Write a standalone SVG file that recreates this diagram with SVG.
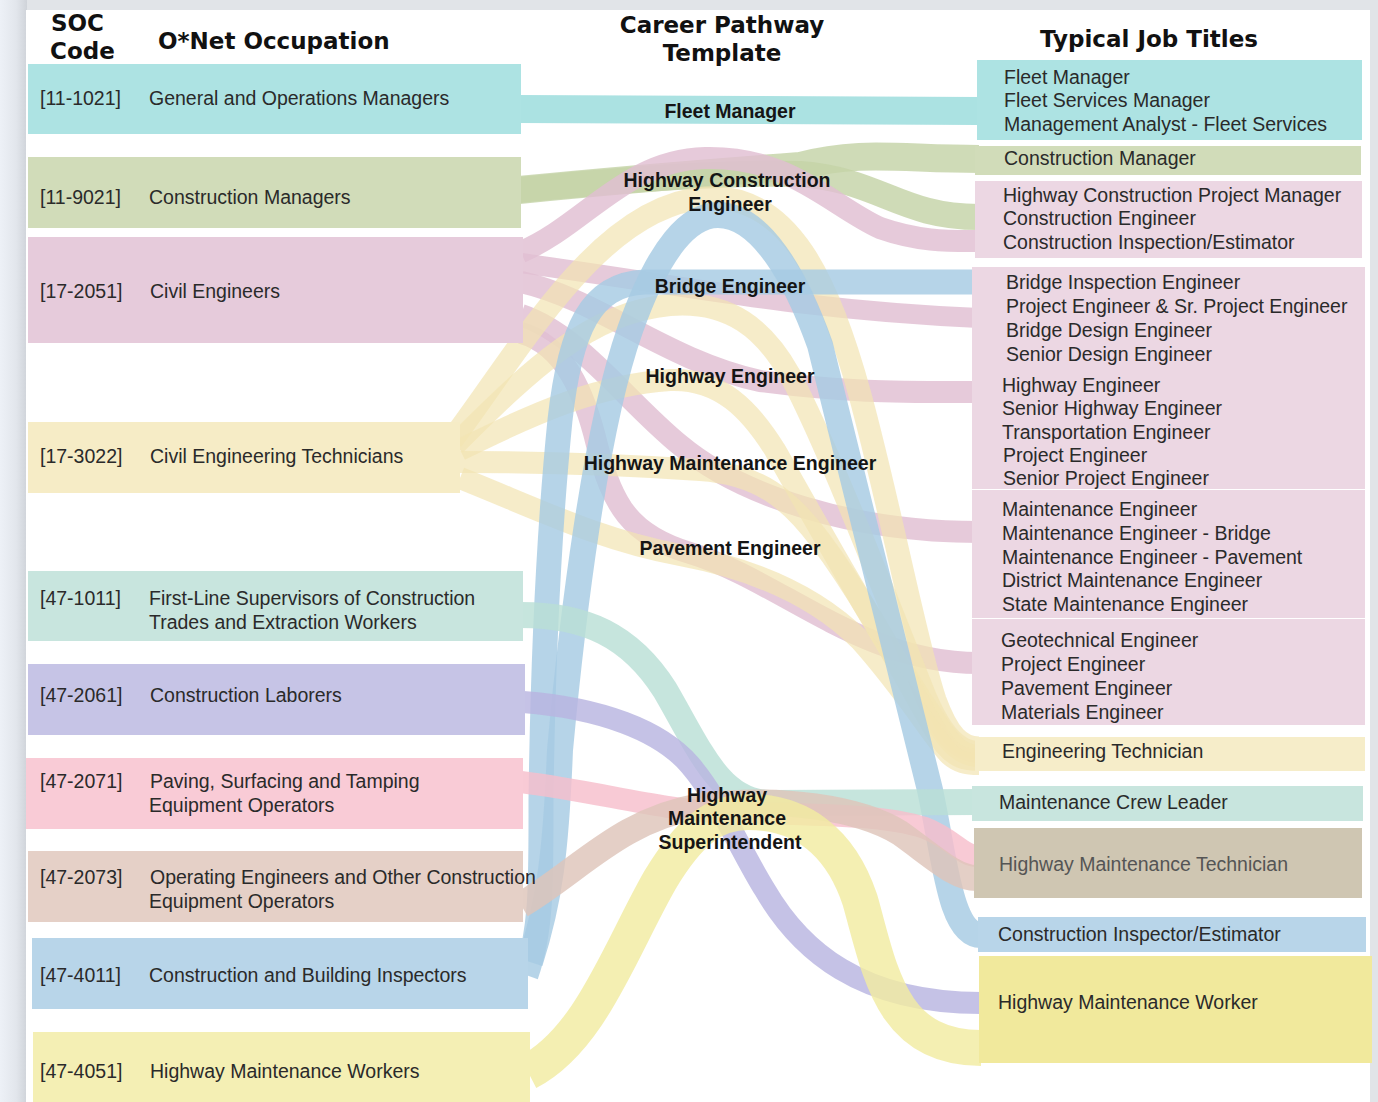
<svg xmlns="http://www.w3.org/2000/svg" width="1378" height="1102" viewBox="0 0 1378 1102">
<defs>
<linearGradient id="shadow" x1="0" x2="1" y1="0" y2="0">
<stop offset="0" stop-color="#edf1f7"/>
<stop offset="0.6" stop-color="#e2e6ec"/>
<stop offset="1" stop-color="#cfd3d9"/>
</linearGradient>
<style>
text{font-family:"Liberation Sans",Arial,sans-serif;font-size:19.5px;fill:#2a2a2a}
.hd{font-family:"DejaVu Sans","Liberation Sans",sans-serif;font-weight:bold;font-size:23px;fill:#111}
.mid{font-weight:bold;fill:#151515;text-anchor:middle}
.f{fill:none;stroke-opacity:0.82;stroke-linecap:butt}
.teal{stroke:#99dcdc}.green{stroke:#c5d3a7}.pink{stroke:#e0bed2}.yel{stroke:#f2e4b2;stroke-opacity:0.7}
.blue{stroke:#a6cae3}.mint{stroke:#badfd6}.purp{stroke:#b8b5e0}.pink2{stroke:#f7becc}
.brown{stroke:#dec4b9}.yel2{stroke:#f1eba1}
</style>
</defs>
<rect x="0" y="0" width="1378" height="1102" fill="#e1e4e8"/>
<rect x="0" y="0" width="27" height="1102" fill="url(#shadow)"/>
<rect x="26" y="10" width="1344" height="1092" fill="#ffffff"/>

<g id="headers">
<text class="hd" x="51" y="31">SOC</text>
<text class="hd" x="50" y="59">Code</text>
<text class="hd" x="158" y="49">O*Net Occupation</text>
<text class="hd" x="722" y="33" text-anchor="middle">Career Pathway</text>
<text class="hd" x="722" y="61" text-anchor="middle">Template</text>
<text class="hd" x="1149" y="47" text-anchor="middle">Typical Job Titles</text>
</g>

<g id="connectors">
<path class="f teal" stroke-width="28" d="M 519 109 C 700 109, 800 111, 979 111"/>
<path class="f green" stroke-width="28" d="M 519 190 C 620 180, 720 172, 800 166 C 860 150, 900 159, 979 159"/>
<path class="f green" stroke-width="26" d="M 519 190 C 620 180, 720 172, 800 174 C 880 180, 900 217, 979 217"/>
<path class="f pink" stroke-width="22" d="M 521 252 C 585 225, 625 160, 705 158 C 790 156, 830 205, 880 228 C 920 242, 950 241, 979 241"/>
<path class="f pink" stroke-width="20" d="M 521 263 C 700 288, 800 310, 979 318"/>
<path class="f pink" stroke-width="22" d="M 521 282 C 600 300, 665 360, 760 381 C 850 393, 900 392, 979 392"/>
<path class="f pink" stroke-width="22" d="M 521 315 C 580 335, 625 400, 680 445 C 740 495, 850 532, 979 532"/>
<path class="f pink" stroke-width="22" d="M 521 333 C 565 345, 585 395, 597 445 C 612 505, 630 535, 690 553 C 780 580, 860 663, 979 663"/>
<path class="f yel" stroke-width="23" d="M 452 440 C 520 350, 600 205, 705 198 C 790 192, 830 285, 860 395 C 890 505, 915 640, 935 700 C 948 735, 960 748, 979 748"/>
<path class="f yel" stroke-width="22" d="M 455 445 C 530 370, 590 312, 670 305 C 730 300, 765 330, 790 375 C 830 450, 895 620, 925 695 C 942 735, 958 752, 979 752"/>
<path class="f yel" stroke-width="22" d="M 460 450 C 540 410, 600 385, 670 380 C 720 378, 750 410, 775 450 C 820 530, 900 670, 935 720 C 950 745, 962 756, 979 756"/>
<path class="f yel" stroke-width="22" d="M 460 462 C 560 462, 640 466, 700 470 C 760 474, 790 500, 820 540 C 880 620, 925 720, 945 745 C 955 757, 965 760, 979 760"/>
<path class="f yel" stroke-width="22" d="M 460 478 C 540 510, 600 540, 680 555 C 760 570, 820 600, 860 640 C 905 690, 935 740, 950 755 C 958 762, 966 764, 979 764"/>
<path class="f blue" stroke-width="25" d="M 526 975 C 542 930, 541 880, 541 800 C 543 650, 550 520, 560 420 C 570 330, 590 284, 645 282 L 979 282"/>
<path class="f blue" stroke-width="26" d="M 530 962 C 550 900, 556 850, 560 750 C 572 620, 595 430, 630 330 C 660 245, 690 215, 718 215 C 760 215, 795 275, 820 345 L 930 790 C 945 860, 950 935, 981 935"/>
<path class="f mint" stroke-width="26" d="M 521 615 C 585 615, 630 635, 665 690 C 700 750, 720 803, 770 803 C 850 803, 900 802, 979 802"/>
<path class="f purp" stroke-width="22" d="M 523 702 C 600 708, 660 730, 690 765 C 720 800, 740 850, 765 890 C 800 950, 860 1003, 981 1003"/>
<path class="f pink2" stroke-width="22" d="M 521 782 C 600 792, 660 810, 720 812 C 800 815, 880 813, 925 828 C 955 840, 962 856, 977 856"/>
<path class="f brown" stroke-width="26" d="M 521 905 C 580 870, 620 820, 700 806 C 780 796, 860 808, 900 833 C 935 858, 955 878, 977 878"/>
<path class="f yel2" stroke-width="36" d="M 528 1072 C 590 1040, 620 950, 660 880 C 690 830, 715 812, 748 812 C 800 812, 840 840, 860 900 C 880 970, 890 1048, 981 1048"/>
</g>

<g id="soc-11-1021"><rect x="28" y="64" width="493" height="70" fill="#ade3e3"/><text x="40" y="105">[11-1021]</text><text x="149" y="105">General and Operations Managers</text></g>
<g id="soc-11-9021"><rect x="28" y="157" width="493" height="71" fill="#d1dcb9"/><text x="40" y="204">[11-9021]</text><text x="149" y="204">Construction Managers</text></g>
<g id="soc-17-2051"><rect x="28" y="237" width="495" height="106" fill="#e6cbdb"/><text x="40" y="298">[17-2051]</text><text x="150" y="298">Civil Engineers</text></g>
<g id="soc-17-3022"><rect x="28" y="422" width="432" height="71" fill="#f6ecc6"/><text x="40" y="463">[17-3022]</text><text x="150" y="463">Civil Engineering Technicians</text></g>
<g id="soc-47-1011"><rect x="28" y="571" width="495" height="70" fill="#c8e5de"/><text x="40" y="605">[47-1011]</text><text x="149" y="605">First-Line Supervisors of Construction</text><text x="149" y="629">Trades and Extraction Workers</text></g>
<g id="soc-47-2061"><rect x="28" y="664" width="497" height="71" fill="#c6c4e6"/><text x="40" y="702">[47-2061]</text><text x="150" y="702">Construction Laborers</text></g>
<g id="soc-47-2071"><rect x="26" y="758" width="497" height="71" fill="#f9cbd6"/><text x="40" y="788">[47-2071]</text><text x="150" y="788">Paving, Surfacing and Tamping</text><text x="149" y="812">Equipment Operators</text></g>
<g id="soc-47-2073"><rect x="28" y="851" width="495" height="71" fill="#e5d0c7"/><text x="40" y="884">[47-2073]</text><text x="150" y="884">Operating Engineers and Other Construction</text><text x="149" y="908">Equipment Operators</text></g>
<g id="soc-47-4011"><rect x="32" y="938" width="496" height="71" fill="#b8d5e9"/><text x="40" y="982">[47-4011]</text><text x="149" y="982">Construction and Building Inspectors</text></g>
<g id="soc-47-4051"><rect x="33" y="1032" width="497" height="70" fill="#f4efb4"/><text x="40" y="1078">[47-4051]</text><text x="150" y="1078">Highway Maintenance Workers</text></g>

<g id="tpl-fleet-manager"><text class="mid" x="730" y="118">Fleet Manager</text></g>
<g id="tpl-highway-construction-engineer"><text class="mid" x="727" y="187">Highway Construction</text><text class="mid" x="730" y="211">Engineer</text></g>
<g id="tpl-bridge-engineer"><text class="mid" x="730" y="293">Bridge Engineer</text></g>
<g id="tpl-highway-engineer"><text class="mid" x="730" y="383">Highway Engineer</text></g>
<g id="tpl-highway-maintenance-engineer"><text class="mid" x="730" y="470">Highway Maintenance Engineer</text></g>
<g id="tpl-pavement-engineer"><text class="mid" x="730" y="555">Pavement Engineer</text></g>
<g id="tpl-highway-maintenance-superintendent"><text class="mid" x="727" y="802">Highway</text><text class="mid" x="727" y="825">Maintenance</text><text class="mid" x="730" y="849">Superintendent</text></g>

<g id="job-fleet"><rect x="977" y="60" width="385" height="80" fill="#ade3e3"/><text x="1004" y="84">Fleet Manager</text><text x="1004" y="107">Fleet Services Manager</text><text x="1004" y="131">Management Analyst - Fleet Services</text></g>
<g id="job-construction-manager"><rect x="975" y="146" width="386" height="29" fill="#d1dcb9"/><text x="1004" y="165">Construction Manager</text></g>
<g id="job-highway-construction"><rect x="975" y="181" width="387" height="77" fill="#ecd7e3"/><text x="1003" y="202">Highway Construction Project Manager</text><text x="1003" y="225">Construction Engineer</text><text x="1003" y="249">Construction Inspection/Estimator</text></g>
<g id="job-bridge"><rect x="972" y="267" width="393" height="106" fill="#ecd7e3"/><text x="1006" y="289">Bridge Inspection Engineer</text><text x="1006" y="313">Project Engineer &amp; Sr. Project Engineer</text><text x="1006" y="337">Bridge Design Engineer</text><text x="1006" y="361">Senior Design Engineer</text></g>
<g id="job-highway"><rect x="972" y="373" width="393" height="116" fill="#ecd7e3"/><text x="1002" y="392">Highway Engineer</text><text x="1002" y="415">Senior Highway Engineer</text><text x="1002" y="439">Transportation Engineer</text><text x="1003" y="462">Project Engineer</text><text x="1003" y="485">Senior Project Engineer</text></g>
<g id="job-maintenance"><rect x="972" y="490" width="393" height="128" fill="#ecd7e3"/><text x="1002" y="516">Maintenance Engineer</text><text x="1002" y="540">Maintenance Engineer - Bridge</text><text x="1002" y="564">Maintenance Engineer - Pavement</text><text x="1002" y="587">District Maintenance Engineer</text><text x="1002" y="611">State Maintenance Engineer</text></g>
<g id="job-geotech"><rect x="972" y="619" width="393" height="106" fill="#ecd7e3"/><text x="1001" y="647">Geotechnical Engineer</text><text x="1001" y="671">Project Engineer</text><text x="1001" y="695">Pavement Engineer</text><text x="1001" y="719">Materials Engineer</text></g>
<g id="job-engineering-technician"><rect x="975" y="737" width="390" height="34" fill="#f6edc9"/><text x="1002" y="758">Engineering Technician</text></g>
<g id="job-crew-leader"><rect x="972" y="786" width="391" height="35" fill="#c8e5de"/><text x="999" y="809">Maintenance Crew Leader</text></g>
<g id="job-maintenance-technician"><rect x="974" y="828" width="388" height="70" fill="#cfc6b2"/><text x="999" y="871" style="fill:#555">Highway Maintenance Technician</text></g>
<g id="job-inspector"><rect x="978" y="917" width="388" height="35" fill="#b8d5e9"/><text x="998" y="941">Construction Inspector/Estimator</text></g>
<g id="job-maintenance-worker"><rect x="979" y="956" width="393" height="107" fill="#f1e99c"/><text x="998" y="1009">Highway Maintenance Worker</text></g>
</svg>
